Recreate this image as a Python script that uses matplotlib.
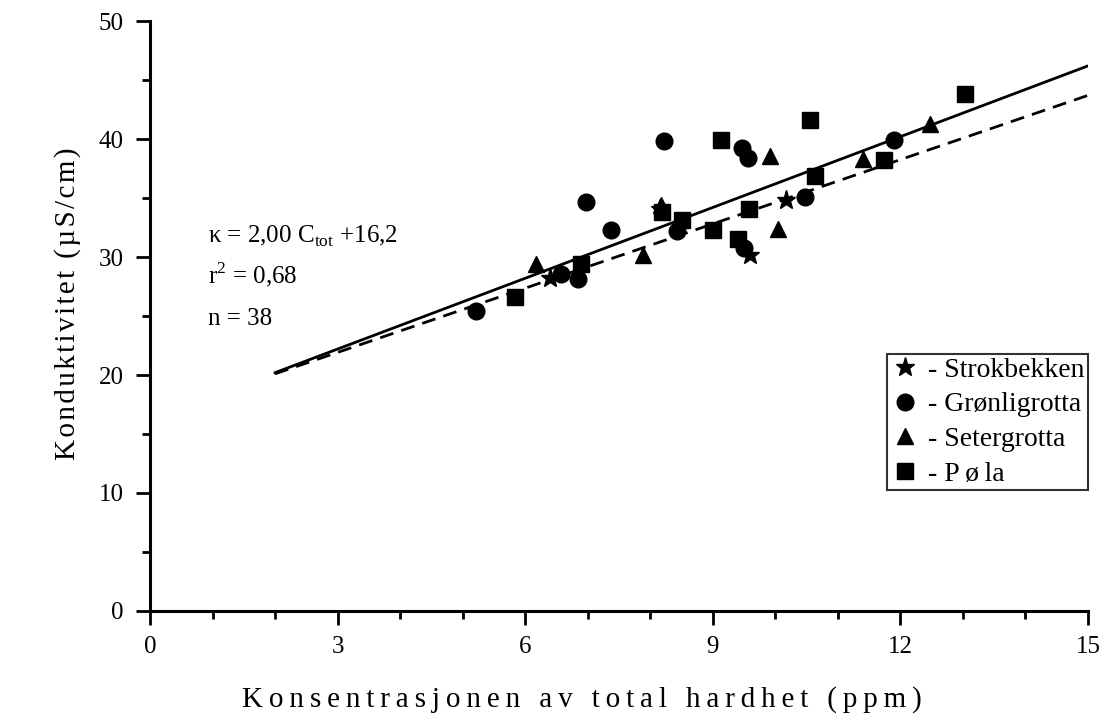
import numpy as np
import matplotlib
matplotlib.use("Agg")
import matplotlib.pyplot as plt
from matplotlib.ticker import MultipleLocator

plt.rcParams['font.family'] = ['Liberation Serif', 'DejaVu Serif']
plt.rcParams['mathtext.fontset'] = 'custom'
plt.rcParams['mathtext.rm'] = 'Liberation Serif'

# data
strok_x = [6.39, 8.15, 9.60, 10.17]
strok_y = [28.2, 34.1, 30.2, 34.8]

gronli_x = [5.22, 6.57, 6.85, 6.97, 7.38, 8.22, 8.42, 9.46, 9.57, 9.50, 10.48, 11.90]
gronli_y = [25.4, 28.6, 28.1, 34.7, 32.3, 39.8, 32.2, 39.2, 38.4, 30.8, 35.1, 39.9]

seter_x = [6.17, 7.89, 8.17, 9.92, 10.05, 11.40, 12.47]
seter_y = [29.4, 30.2, 34.4, 38.6, 32.4, 38.3, 41.3]

pola_x = [5.83, 6.89, 8.19, 8.51, 9.00, 9.13, 9.41, 9.58, 10.56, 10.63, 11.73, 13.04]
pola_y = [26.6, 29.4, 33.8, 33.1, 32.3, 39.9, 31.5, 34.1, 41.6, 36.9, 38.2, 43.8]

fit_x = [2, 15]
fit_solid_y = [20.2, 46.2]
fit_dashed_y = [20.1, 43.7]


def spaced(s, gap='\u2009'):
    # stretch letters apart like the original typesetting
    return gap.join(s)


fig = plt.figure(figsize=(11.03, 7.2), dpi=100)
ax = fig.add_axes([0.136, 0.1514, 0.8504, 0.8194])

ax.plot(fit_x, fit_solid_y, color='black', lw=2)
ax.plot(fit_x, fit_dashed_y, color='black', lw=2, ls=(0, (5, 3)))

ms = 12
ax.plot(strok_x, strok_y, '*', color='black', ms=ms + 2, ls='none', label='- Strokbekken')
ax.plot(gronli_x, gronli_y, 'o', color='black', ms=ms, ls='none', label='- Grønligrotta')
ax.plot(seter_x, seter_y, '^', color='black', ms=ms, ls='none', label='- Setergrotta')
ax.plot(pola_x, pola_y, 's', color='black', ms=ms - 0.5, ls='none', label='- P\u2009ø\u2009la')

ax.set_xlim(0, 15)
ax.set_ylim(0, 50)
ax.xaxis.set_major_locator(MultipleLocator(3))
ax.xaxis.set_minor_locator(MultipleLocator(1))
ax.yaxis.set_major_locator(MultipleLocator(10))
ax.yaxis.set_minor_locator(MultipleLocator(5))

for s in ['top', 'right']:
    ax.spines[s].set_visible(False)
for s in ['left', 'bottom']:
    ax.spines[s].set_linewidth(2.2)
ax.tick_params(which='major', length=10, width=2, labelsize=18, direction='out')
ax.tick_params(which='minor', length=6, width=2, direction='out')
ax.tick_params(axis='x', which='major', pad=8)
ax.tick_params(axis='y', which='major', pad=9)

ax.set_xlabel(spaced('Konsentrasjonen av total hardhet (ppm)'), fontsize=21)
ax.xaxis.set_label_coords(0.46, -0.127)
ax.set_ylabel(spaced('Konduktivitet (µS/cm)', '\u200a'), fontsize=21)
ax.yaxis.set_label_coords(-0.074, 0.52)

ax.text(0.93, 31.2, r'κ = 2,00 C$_{\mathrm{tot}}$ +16,2', fontsize=18, va='baseline')
ax.text(0.93, 27.8, r'r$^{2}$ = 0,68', fontsize=18, va='baseline')
ax.text(0.93, 24.2, 'n = 38', fontsize=18, va='baseline')

leg = ax.legend(loc='lower right', bbox_to_anchor=(1.0, 0.205), fontsize=20,
                frameon=True, fancybox=False, edgecolor='black', handletextpad=0.35,
                handlelength=1.0, borderpad=0.12, labelspacing=0.33, borderaxespad=0)
leg.get_frame().set_linewidth(1.5)

fig.savefig('out.png', dpi=100)
